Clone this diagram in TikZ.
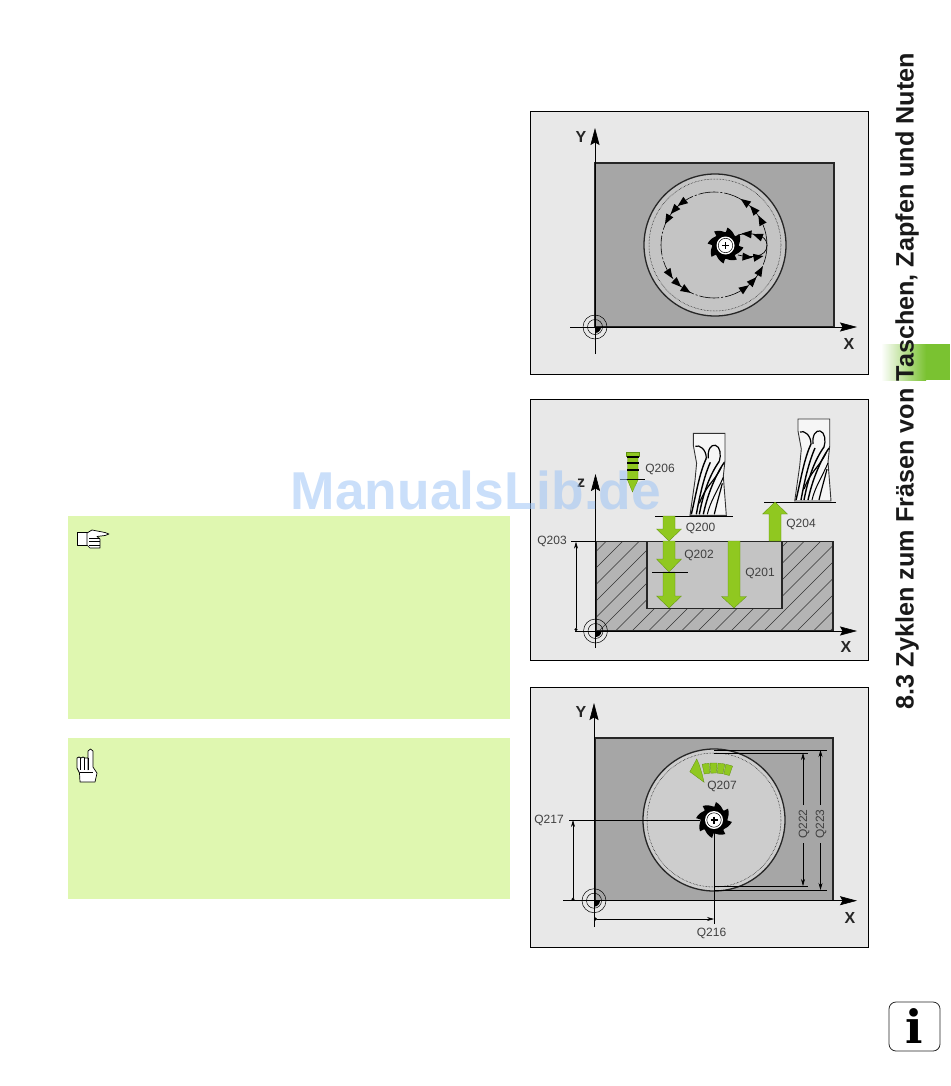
\documentclass[tikz,border=0pt]{standalone}
\usepackage{fontspec}
\setmainfont{Liberation Sans}
\newfontfamily\iconfont{DejaVu Serif}
\usetikzlibrary{arrows.meta,calc}

\definecolor{panelgray}{HTML}{E8E8E8}
\definecolor{blockgray}{HTML}{A6A6A6}
\definecolor{pocketgray}{HTML}{C4C4C4}
\definecolor{hatchgray}{HTML}{B4B4B4}
\definecolor{notegreen}{HTML}{DFF7B0}
\definecolor{feedgreen}{HTML}{90C820}
\definecolor{feededge}{HTML}{5F8F10}
\definecolor{tabgreen}{HTML}{7AC231}
\definecolor{labelgray}{HTML}{404040}
\definecolor{markblue}{HTML}{9EC4F5}

\tikzset{
	panelbox/.style={draw=black, line width=0.7pt, fill=panelgray},
	stockline/.style={draw=black!85, line width=1.5pt},
	axisline/.style={black, line width=0.6pt, -{Stealth[length=17pt,width=9pt,inset=2.5pt]}},
	thinline/.style={black, line width=0.5pt},
	dimline/.style={black, line width=0.6pt, {Circle[length=3pt]}-{Stealth[length=7pt,width=4pt]}},
	qlabel/.style={text=labelgray, font=\fontsize{12}{14}\selectfont, inner sep=0pt},
	axislabel/.style={text=black!85, font=\fontsize{16}{18}\selectfont\bfseries, inner sep=0pt},
	feedarrow/.style={fill=feedgreen, draw=feededge, line width=0.3pt},
	handline/.style={draw=black, line width=0.7pt, fill=white, line join=round},
}

% origin mark of the axes
\newcommand{\originmark}[2]{
	\draw[thinline] (#1,#2) circle (12);
	\draw[thinline] (#1,#2) circle (7.5);
	\fill[black] (#1,#2) -- (#1+6,#2) arc (0:90:6) -- cycle;
}
% cutter seen from above
\newcommand{\millcutter}[2]{
	\fill[black] (#1,#2) circle (13.5);
	\foreach \a in {0,45,...,315} {
		\fill[black] ($(#1,#2)+(\a:12)$) -- ($(#1,#2)+(\a+6:18)$) .. controls ($(#1,#2)+(\a+20:17)$) and ($(#1,#2)+(\a+32:15)$) .. ($(#1,#2)+(\a+45:13)$) -- cycle;
	}
	\fill[white] (#1,#2) circle (9);
	\draw[black, line width=0.5pt] (#1,#2) circle (7.2);
	\draw[black, line width=1.4pt] (#1-3.5,#2) -- (#1+3.5,#2) (#1,#2-3.5) -- (#1,#2+3.5);
}
% cutter seen from the side, #1 #2 is the top left corner
\newcommand{\sidecutter}[2]{
	\begin{scope}[shift={(#1,#2)}]
		\draw[black!80, fill=panelgray!40!white, line width=0.9pt] (0,0) -- (31.7,0) -- (31.7,27) -- (30,43) -- (33,82) -- (-3.3,82) -- (1.7,47) -- (3.3,30) -- (0,12) -- cycle;
		\draw[black, line width=1.2pt] (2,13) .. controls (6,11) and (13,16) .. (13,25);
		\draw[black, line width=1.2pt] (15,25) .. controls (14,16) and (18,11) .. (22,12) .. controls (27,13) and (28,22) .. (26,28);
		\draw[black, line width=1.4pt] (13,25) .. controls (6,40) and (3,60) .. (-2,81);
		\draw[black, line width=1.4pt] (17,29) .. controls (10,45) and (6,65) .. (3,81);
		\draw[black, line width=1.4pt] (26,28) .. controls (16,42) and (10,60) .. (6,81);
		\draw[black, line width=1.4pt] (31,29) .. controls (22,42) and (14,62) .. (10,81);
		\draw[black, line width=1.2pt] (29,50) .. controls (26,62) and (23,72) .. (21,81);
		\draw[black, line width=1.2pt] (28,34) .. controls (20,50) and (14,50) .. (6,70);
		\draw[black, line width=1pt] (30,44) .. controls (24,58) and (17,68) .. (14,81);
	\end{scope}
}
% green arrow that points down
\newcommand{\feeddown}[5]{
	\path[feedarrow] (#1-6,#2) -- (#1+6,#2) -- (#1+6,#3) -- (#1+#5,#3) -- (#1,#4) -- (#1-#5,#3) -- (#1-6,#3) -- cycle;
}
% small black tip on the tool path
\newcommand{\pathtip}[3]{
	\fill[black, shift={({#1},{#2})}, rotate=#3] (5.5,0) -- (-4.5,-4) -- (-4.5,4) -- cycle;
}

\begin{document}
\begin{tikzpicture}[x=1pt,y=-1pt]
	\useasboundingbox (0,0) rectangle (950,1086);

	% notes on the left
	\fill[notegreen] (68,516) rectangle (510,719);
	\fill[notegreen] (68,738) rectangle (510,899);

	% pointing hand
	\path[handline] (87,532) -- (77.5,532) -- (77.5,545) -- (87,545) -- cycle;
	\path[handline] (87,533) -- (92,530) -- (105,532.5) -- (109,534) -- (105,535.5) -- (97,536.5) -- (100,539) -- (100,548) -- (90,548) -- (87,545) -- cycle;
	\draw[black, line width=0.7pt] (89,538) -- (100,538) (89,541.5) -- (100,541.5) (89,545) -- (100,545);

	% raised hand
	\path[handline] (88,770) -- (88,751) -- (90.5,749) -- (93,751) -- (93,767) -- (97,773) -- (95,782) -- (80,782) -- (79.5,773) -- (77,768) -- (77,758) -- (79,757) -- (81,758) -- (83,757) -- (85,758) -- (88,758);
	\draw[black, line width=0.7pt] (80.5,758) -- (80.5,770) (84.5,758) -- (84.5,770) (88,758) -- (88,770) (79.5,772) -- (93,772);

	% first panel: path of the tool
	\path[panelbox] (530.5,111) rectangle (868,374.5);
	\path[stockline, fill=blockgray] (595,163) rectangle (834,327);
	\draw[black!85, line width=1.3pt, fill=pocketgray] (715,245) circle (71);
	\draw[black, line width=0.5pt, densely dotted] (715,245) circle (66);
	\draw[black, line width=0.6pt, dash pattern=on 20pt off 2pt on 2pt off 2pt] (714,245) circle (53);
	\foreach \a in {233,221.5,209,147,134,122,55,43,29.6,-27.7,-41.7,-54} {
		\pathtip{714+53*cos(\a)}{245+53*sin(\a)}{90-\a}
	}
	\draw[black, line width=0.7pt] (738,255) .. controls (750,258) and (767,258) .. (767,245) .. controls (767,234) and (750,232) .. (738,235);
	\pathtip{747}{234}{175}
	\pathtip{758}{236}{160}
	\pathtip{747}{257}{-5}
	\pathtip{758}{257}{10}
	\millcutter{725.5}{245.5}
	\draw[axisline] (595,354) -- (595,128);
	\draw[axisline] (570,327) -- (857,327);
	\originmark{595}{327}
	\node[axislabel] (ylabela) at (581,137) {Y};
	\node[axislabel] (xlabela) at (849,344) {X};

	% second panel: the depths
	\path[panelbox] (530.5,399.5) rectangle (868,660);
	\fill[hatchgray] (596,541.7) rectangle (833,631);
	\begin{scope}
		\clip (596,541.7) rectangle (833,631);
		\foreach \x in {500,516.5,...,840} {
			\draw[black!80, line width=0.4pt] (\x,631) -- (\x+90,541);
		}
	\end{scope}
	\draw[black!85, line width=1.5pt, fill=pocketgray] (647,541.7) rectangle (782,608.7);
	\draw[stockline] (596,541.7) rectangle (833,631);
	\sidecutter{693.3}{433.3}
	\sidecutter{798}{419}
	\draw[thinline] (655,516) -- (733,516);
	\draw[thinline] (764,502) -- (836,502);
	\feeddown{669}{516}{529}{541}{12.5}
	\feeddown{669}{541}{559}{572}{12.5}
	\feeddown{669}{572}{596}{608}{12.5}
	\feeddown{734}{541}{596.5}{608}{12.5}
	\path[feedarrow] (769,541) -- (781,541) -- (781,514) -- (787.5,514) -- (775,502) -- (762.5,514) -- (769,514) -- cycle;
	\draw[thinline] (652,572) -- (688,572);
	% plunge feed
	\path[feedarrow] (626,452) rectangle (639,456);
	\path[feedarrow] (627.5,457) -- (638,457) -- (638,480) -- (638,480) -- (632.5,492) -- (627.5,480) -- cycle;
	\draw[black, line width=1.2pt] (627,457) -- (638.5,457) (627,463) -- (638.5,463) (627,470) -- (638.5,470);
	\draw[black, line width=1pt] (620,479.5) -- (645,479.5);
	\draw[axisline] (595.5,648) -- (595.5,474);
	\draw[axisline] (575,631) -- (857,631);
	\originmark{595.5}{631}
	\draw[thinline] (571,541.7) -- (596,541.7);
	\draw[dimline] (576,631) -- (576,541.7);
	\node[axislabel] (zlabel) at (581,483) {z};
	\node[axislabel] (xlabelb) at (846,647) {X};
	\node[qlabel] (qsix) at (660,469) {Q206};
	\node[qlabel] (qzero) at (700.5,528) {Q200};
	\node[qlabel] (qfour) at (801,524) {Q204};
	\node[qlabel] (qthree) at (552,541) {Q203};
	\node[qlabel] (qtwo) at (699,555) {Q202};
	\node[qlabel] (qone) at (760,573) {Q201};

	% third panel: the stud
	\path[panelbox] (530.5,687) rectangle (868,947.7);
	\path[stockline, fill=blockgray] (595,738) rectangle (833,900.7);
	\draw[black!85, line width=1.3pt, fill=pocketgray!85!white] (714,820) circle (71);
	\draw[black, line width=0.5pt, densely dotted] (714,820) circle (67);
	\draw[thinline] (714,750) -- (827,750) (714,753) -- (808,753) (714,886) -- (808,886) (714,890) -- (827,890);
	\draw[thinline] (569,820) -- (700,820);
	\draw[thinline] (714,820) -- (714,924);
	\millcutter{714}{820}
	% feed along the circle
	\begin{scope}[shift={(714,820)}]
		\path[feedarrow] (-116.6:54) -- (-105.8:63.4) -- (-105:58) -- (-104.5:47) -- (-104.7:39) -- cycle;
		\foreach \a in {-102,-94,-86,-78} {
			\path[feedarrow] (\a:47) arc (\a:\a+7:47) -- (\a+7:57) arc (\a+7:\a:57) -- cycle;
		}
	\end{scope}
	\draw[axisline] (594,927) -- (594,703);
	\draw[axisline] (563,900.7) -- (857,900.7);
	\originmark{594}{900.7}
	\draw[dimline] (573,900.7) -- (573,820);
	\draw[dimline] (594,919) -- (714,919);
	\draw[black, line width=0.6pt, -{Stealth[length=7pt,width=4pt]}] (803,805) -- (803,753);
	\draw[black, line width=0.6pt, -{Stealth[length=7pt,width=4pt]}] (803,843) -- (803,886);
	\draw[black, line width=0.6pt, -{Stealth[length=7pt,width=4pt]}] (820.5,805) -- (820.5,750);
	\draw[black, line width=0.6pt, -{Stealth[length=7pt,width=4pt]}] (820.5,843) -- (820.5,890);
	\node[axislabel] (ylabelc) at (581,712) {Y};
	\node[axislabel] (xlabelc) at (850,918) {X};
	\node[qlabel] (qseven) at (722,786) {Q207};
	\node[qlabel] (qseventeen) at (549,820) {Q217};
	\node[qlabel] (qsixteen) at (711.5,933) {Q216};
	\node[qlabel, rotate=90] (qtwentytwo) at (804,824) {Q222};
	\node[qlabel, rotate=90] (qtwentythree) at (821,824) {Q223};

	% chapter tab and title on the right
	\shade[left color=white, right color=tabgreen] (881,344) rectangle (926,380);
	\fill[tabgreen] (926,344) rectangle (950,380);
	\node[rotate=90, inner sep=0pt, text=black!90, font=\fontsize{25.2}{28}\selectfont\bfseries] (chaptertitle) at (907,381) {8.3 Zyklen zum Fräsen von Taschen, Zapfen und Nuten};

	% info sign
	\draw[black!85, line width=0.8pt, rounded corners=7pt, fill=white] (889,1002) rectangle (940,1051);
	\node[inner sep=0pt, text=black, font=\fontsize{46}{50}\selectfont\iconfont\bfseries] (infosign) at (914,1026) {i};

	% watermark
	\node[inner sep=0pt, text=markblue, opacity=0.55, font=\fontsize{53.3}{56}\selectfont\bfseries] (watermark) at (476,490) {ManualsLib.de};
\end{tikzpicture}
\end{document}
